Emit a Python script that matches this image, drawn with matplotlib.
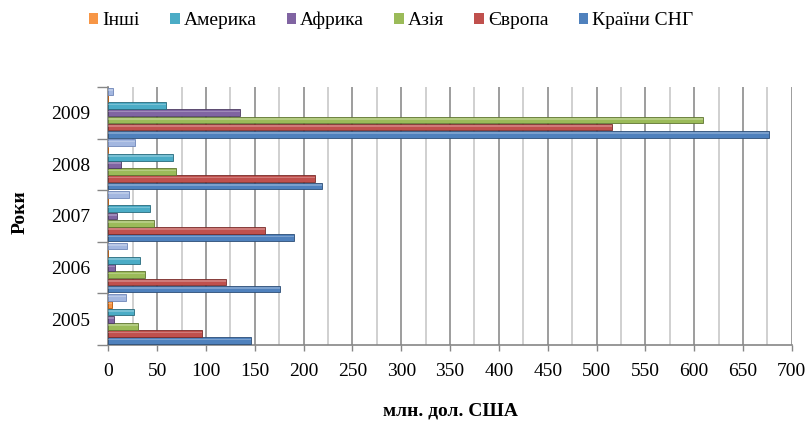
import numpy as np
import matplotlib
matplotlib.use("Agg")
import matplotlib.pyplot as plt
from matplotlib.patches import Patch

years = ['2005', '2006', '2007', '2008', '2009']

# series, bottom to top inside each year group
series_names = ['Країни СНГ', 'Європа', 'Азія', 'Африка', 'Америка', 'Інші', '']
cis     = [146, 176, 190, 219, 677]
europe  = [96, 121, 161, 212, 516]
asia    = [30, 38, 47, 69, 609]
africa  = [6, 7, 9, 13, 135]
america = [26, 32, 43, 66, 59]
other   = [4, 0, 0, 0, 0]
extra   = [18, 19, 21, 27, 5]   # 7th series without legend entry
series_values = [cis, europe, asia, africa, america, other, extra]
colors = ['#4F81BD', '#C0504D', '#9BBB59', '#8064A2', '#4BACC6', '#F79646', '#A3B7E0']
edges  = ['#2C4D75', '#772C2A', '#5F7530', '#4D3B62', '#276A7C', '#B65708', '#6F86B8']

plt.rc("font", family="Liberation Serif")

fig = plt.figure(figsize=(8.08, 4.21), dpi=100)
ax = fig.add_axes([0.134, 0.1805, 0.846, 0.613])

y = np.arange(len(years))
slot = 0.975 / 7
h = slot * 0.93
for k, (vals, c, ec) in enumerate(zip(series_values, colors, edges)):
    pos = y + (k - 3) * slot
    ax.barh(pos, vals, height=h, color=c, edgecolor=ec, linewidth=0.6, zorder=3)
    # light stripe to hint the cylinder look
    ax.barh(pos + h * 0.18, vals, height=h * 0.25, color='white', alpha=0.25,
            linewidth=0, zorder=4)

ax.set_xlim(0, 700)
ax.set_ylim(-0.5, 4.5)

ax.set_xticks(np.arange(0, 701, 50))
ax.set_xticks(np.arange(25, 700, 50), minor=True)
ax.grid(True, axis='x', which='major', color='#8c8c8c', linewidth=1.2, zorder=0)
ax.grid(True, axis='x', which='minor', color='#c8c8c8', linewidth=1.2, zorder=0)
ax.tick_params(axis='x', which='major', direction='out', length=4, width=1,
               color='#868686', labelsize=14, pad=9)
ax.tick_params(axis='x', which='minor', length=0)

ax.set_yticks(np.arange(-0.5, 4.6, 1.0))
ax.set_yticklabels([])
ax.set_yticks(y, minor=True)
ax.set_yticklabels(years, minor=True)
ax.tick_params(axis='y', which='major', direction='out', length=8, width=1, color='#868686')
ax.tick_params(axis='y', which='minor', length=0, labelsize=14, pad=13)

for s in ['top', 'right']:
    ax.spines[s].set_visible(False)
for s in ['left', 'bottom']:
    ax.spines[s].set_color('#868686')
    ax.spines[s].set_linewidth(1.2)

ax.set_xlabel('млн. дол. США', fontsize=14, fontweight='bold', labelpad=16)
fig.text(20 / 808, 1 - 212 / 421, 'Роки', rotation=90, fontsize=14,
         fontweight='bold', ha='center', va='center')

# legend order as in the original
order = [5, 4, 3, 2, 1, 0]
handles = [Patch(facecolor=colors[i], edgecolor='none') for i in order]
labels = [series_names[i] for i in order]
fig.legend(handles, labels, loc='center', bbox_to_anchor=(0.484, 0.952), ncol=6,
           frameon=False, fontsize=14, handlelength=0.5, handleheight=0.5,
           handletextpad=0.2, columnspacing=1.55)

fig.savefig('out.png', dpi=100)
